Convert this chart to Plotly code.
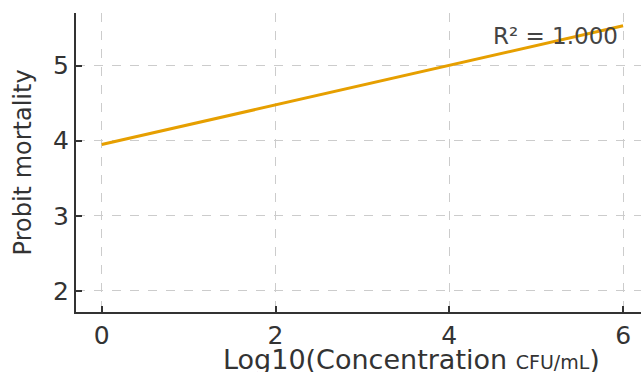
import plotly.graph_objects as go

# Data
log_conc = [0, 2, 4, 6]
probit = [3.95, 4.48, 5.00, 5.53]
x_ticks = [0, 2, 4, 6]
y_ticks = [2, 3, 4, 5]
r2_label = "R² = 1.000"
x_title = "Log10(Concentration <span style='font-size:19px'>CFU/mL</span>)"
y_title = "Probit mortality"

FONT = "DejaVu Sans"
AX = "#333333"

fig = go.Figure()
fig.add_trace(go.Scatter(x=log_conc, y=probit, mode="lines",
                         line=dict(color="#E69F00", width=3),
                         showlegend=False, hoverinfo="skip"))

fig.add_annotation(x=5.96, y=5.39, xref="x", yref="y", text=r2_label,
                   showarrow=False, xanchor="right", yanchor="middle",
                   font=dict(family=FONT, size=23, color="#444444"))

fig.add_annotation(x=0.594, y=-0.10, xref="paper", yref="paper", text=x_title,
                   showarrow=False, xanchor="center", yanchor="top",
                   font=dict(family=FONT, size=27, color=AX))

fig.add_annotation(x=-0.094, y=0.5, xref="paper", yref="paper", text=y_title,
                   showarrow=False, xanchor="center", yanchor="middle", textangle=-90,
                   font=dict(family=FONT, size=24, color=AX))

axis_common = dict(showline=True, linecolor=AX, linewidth=2,
                   ticks="inside", ticklen=6, tickwidth=1.5, tickcolor=AX,
                   showgrid=True, gridcolor="#cccccc", gridwidth=1, griddash="dash",
                   zeroline=False, tickfont=dict(family=FONT, size=25, color=AX))

fig.update_layout(
    width=641, height=372,
    margin=dict(l=76, r=0, t=13, b=60),
    plot_bgcolor="white", paper_bgcolor="white",
    xaxis=dict(range=[-0.296, 6.206], tickvals=x_ticks, **axis_common),
    yaxis=dict(range=[1.72, 5.70], tickvals=y_ticks, **axis_common),
)

fig.write_html("out.html")
